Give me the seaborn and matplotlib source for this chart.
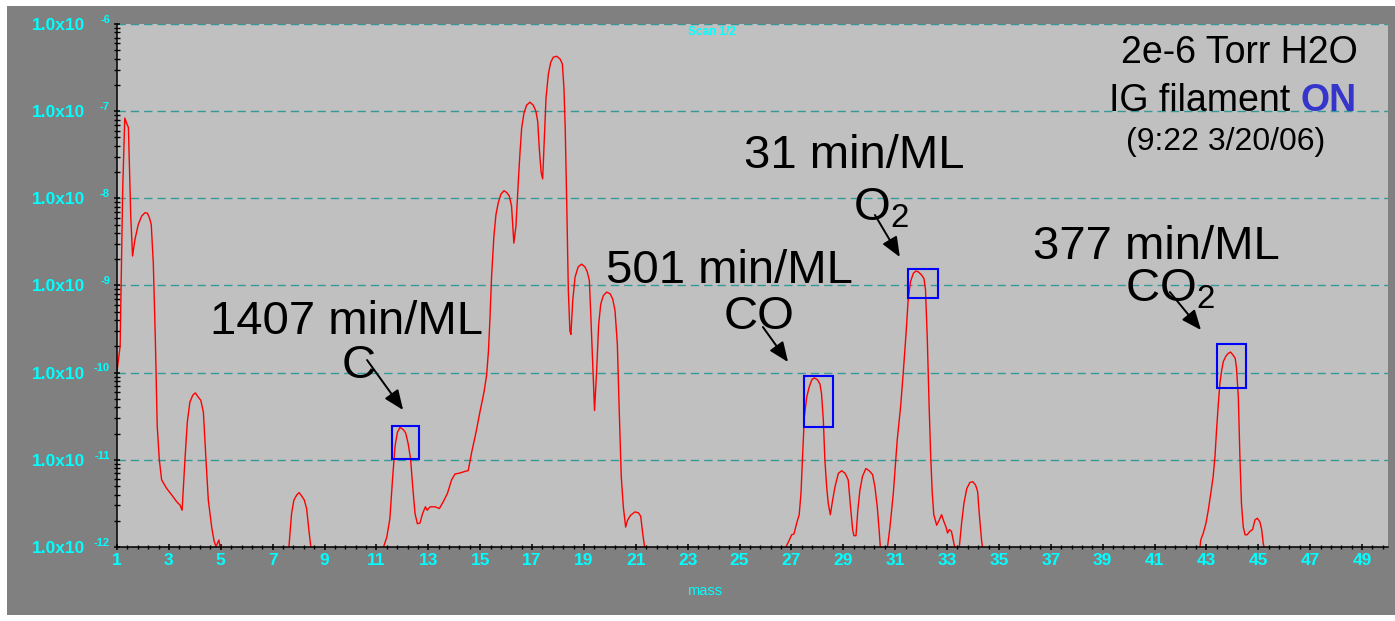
import numpy as np
import pandas as pd
import matplotlib
matplotlib.use("Agg")
import matplotlib.pyplot as plt
import seaborn as sns
from matplotlib.patches import Rectangle
from matplotlib.ticker import FixedLocator, LogLocator, NullFormatter, FixedFormatter

# ---------------- data ----------------
mass = [1.00, 1.12, 1.22, 1.30, 1.37, 1.44, 1.53, 1.60, 1.69, 1.82, 1.95, 2.08, 2.17, 2.25, 2.32,
        2.40, 2.48, 2.55, 2.63, 2.72, 2.91, 3.11, 3.30, 3.43, 3.51, 3.62, 3.71, 3.81, 3.92, 4.02,
        4.13, 4.23, 4.33, 4.43, 4.52, 4.65, 4.74, 4.82, 4.88, 4.93, 4.98, 5.02,
        7.58, 7.62, 7.73, 7.82, 7.93, 8.02, 8.12, 8.22, 8.31, 8.40, 8.48, 8.52,
        11.22, 11.27, 11.40, 11.52, 11.63, 11.72, 11.81, 11.91, 12.04, 12.13, 12.23, 12.32, 12.40,
        12.49, 12.58, 12.68, 12.78, 12.89, 12.96, 13.07, 13.26, 13.43, 13.58, 13.74, 13.90, 14.03,
        14.22, 14.42, 14.54, 14.67, 14.84, 14.99, 15.15, 15.25, 15.32, 15.38, 15.44, 15.53, 15.61,
        15.70, 15.80, 15.92, 16.02, 16.12, 16.21, 16.30, 16.38, 16.47, 16.53, 16.60, 16.69, 16.79,
        16.92, 17.05, 17.15, 17.22, 17.28, 17.35, 17.41, 17.46, 17.54, 17.63, 17.72, 17.82, 17.95,
        18.08, 18.17, 18.23, 18.28, 18.34, 18.40, 18.46, 18.50, 18.57, 18.66, 18.78, 18.91, 19.04,
        19.13, 19.21, 19.27, 19.34, 19.41, 19.49, 19.57, 19.65, 19.75, 19.88, 20.01, 20.11, 20.20,
        20.29, 20.36, 20.44, 20.52, 20.61, 20.68, 20.80, 20.97, 21.10, 21.19, 21.27, 21.35, 21.39,
        26.74, 26.79, 26.92, 27.01, 27.10, 27.20, 27.30, 27.37, 27.43, 27.50, 27.59, 27.69, 27.79,
        27.88, 28.00, 28.10, 28.16, 28.23, 28.29, 28.36, 28.42, 28.50, 28.59, 28.68, 28.81, 28.94,
        29.07, 29.19, 29.28, 29.36, 29.41, 29.49, 29.56, 29.64, 29.74, 29.87, 30.00, 30.13, 30.22,
        30.31, 30.38, 30.43, 30.47,
        30.66, 30.70, 30.80, 30.93, 31.08, 31.21, 31.31, 31.42, 31.50, 31.59, 31.70, 31.80, 31.90,
        32.02, 32.11, 32.17, 32.24, 32.31, 32.37, 32.43, 32.49, 32.60, 32.70, 32.79, 32.88, 32.96,
        33.02, 33.09, 33.17, 33.24, 33.30, 33.33,
        33.44, 33.47, 33.56, 33.65, 33.76, 33.88, 33.99, 34.10, 34.18, 34.24, 34.33, 34.37, 34.41,
        42.71, 42.75, 42.78, 42.88, 42.98, 43.07, 43.17, 43.26, 43.33, 43.39, 43.46, 43.52, 43.59,
        43.65, 43.75, 43.84, 43.93, 44.03, 44.11, 44.16, 44.23, 44.29, 44.35, 44.42, 44.49, 44.57,
        44.68, 44.78, 44.87, 44.96, 45.06, 45.13, 45.19, 45.23, 45.27, 50.00]

# log10 of partial pressure (Torr) at each mass
log_pressure = [-9.988, -9.697, -7.893, -7.079, -7.137, -7.188, -8.204, -8.662, -8.475, -8.300,
                -8.204, -8.165, -8.170, -8.223, -8.300, -8.747, -9.639, -10.608, -10.996, -11.229,
                -11.326, -11.403, -11.480, -11.519, -11.578, -10.996, -10.569, -10.337, -10.259,
                -10.232, -10.279, -10.317, -10.453, -10.996, -11.461, -11.772, -11.927, -12.00,
                -11.95, -11.92, -12.02, -13.0,
                -13.0, -12.03, -11.617, -11.461, -11.403, -11.376, -11.415, -11.461, -11.558,
                -11.811, -12.02, -13.0,
                -13.0, -12.005, -11.888, -11.675, -11.190, -10.841, -10.685, -10.628, -10.654,
                -10.693, -10.822, -10.996, -11.306, -11.617, -11.733, -11.725, -11.617, -11.539,
                -11.578, -11.539, -11.539, -11.558, -11.480, -11.384, -11.229, -11.163, -11.151,
                -11.132, -11.124, -10.918, -10.685, -10.453, -10.221, -10.027, -9.755, -9.367,
                -8.902, -8.437, -8.185, -8.049, -7.952, -7.913, -7.932, -7.971, -8.087, -8.514,
                -8.320, -7.816, -7.505, -7.196, -7.021, -6.932, -6.897, -6.932, -7.002, -7.118,
                -7.428, -7.699, -7.777, -7.428, -6.847, -6.575, -6.440, -6.381, -6.370, -6.401,
                -6.458, -6.730, -7.196, -8.087, -9.057, -9.522, -9.561, -9.173, -8.902, -8.786,
                -8.755, -8.786, -8.844, -8.941, -9.367, -9.910, -10.434, -9.988, -9.445, -9.212,
                -9.115, -9.076, -9.095, -9.154, -9.289, -9.677, -10.415, -11.190, -11.539, -11.772,
                -11.694, -11.636, -11.597, -11.608, -11.647, -11.850, -12.02, -13.0,
                -13.0, -12.00, -11.92, -11.86, -11.85, -11.73, -11.63, -11.38, -10.96, -10.505,
                -10.28, -10.16, -10.08, -10.06, -10.08, -10.13, -10.24, -10.54, -11.00, -11.31,
                -11.50, -11.63, -11.46, -11.31, -11.155, -11.125, -11.155, -11.23, -11.54, -11.80,
                -11.87, -11.87, -11.58, -11.35, -11.19, -11.10, -11.125, -11.17, -11.31, -11.54,
                -11.80, -12.01, -13.0,
                -13.0, -12.01, -11.77, -11.38, -10.77, -10.39, -10.007, -9.55, -9.17, -8.956,
                -8.86, -8.834, -8.845, -8.88, -8.92, -9.05, -9.625, -10.39, -10.96, -11.38,
                -11.63, -11.75, -11.69, -11.63, -11.71, -11.77, -11.84, -11.80, -11.82, -11.92,
                -12.01, -13.0,
                -13.0, -12.01, -11.73, -11.50, -11.33, -11.26, -11.25, -11.29, -11.365, -11.61,
                -11.92, -12.01, -13.0,
                -13.0, -12.01, -11.92, -11.84, -11.73, -11.58, -11.38, -11.19, -10.96, -10.66,
                -10.35, -10.12, -9.97, -9.874, -9.81, -9.78, -9.763, -9.80, -9.835, -9.95, -10.28,
                -10.96, -11.50, -11.77, -11.86, -11.86, -11.82, -11.80, -11.69, -11.67, -11.71,
                -11.80, -11.96, -12.01, -13.0, -13.0]

pressure = 10.0 ** np.array(log_pressure)

ytick_values = [1e-12, 1e-11, 1e-10, 1e-9, 1e-8, 1e-7, 1e-6]
ytick_labels = ["1.0x10"] * 7
ytick_exponents = ["-12", "-11", "-10", "-9", "-8", "-7", "-6"]
xtick_values = list(range(1, 50, 2))
xtick_labels = [str(v) for v in xtick_values]

# highlighted peaks: (mass_low, mass_high, p_low, p_high)
box_mass_lo = [11.60, 27.47, 31.49, 43.39]
box_mass_hi = [12.64, 28.61, 32.64, 44.52]
box_p_lo = [1.02e-11, 2.38e-11, 7.13e-10, 6.6e-11]
box_p_hi = [2.44e-11, 9.16e-11, 1.55e-9, 2.11e-10]

# rate labels
rate_texts = ["1407 min/ML", "501 min/ML", "31 min/ML", "377 min/ML"]
rate_mass = [9.83, 24.63, 29.41, 41.07]
rate_p = [10 ** -9.557, 10 ** -8.971, 10 ** -7.652, 10 ** -8.696]

# species labels
species_texts = ["C", "CO", "O$_2$", "CO$_2$"]
species_mass = [10.33, 25.75, 29.37, 39.86]
species_p = [10 ** -10.062, 10 ** -9.499, 10 ** -8.26, 10 ** -9.178]
species_ha = ["center", "center", "left", "left"]

# arrows tail -> head
arrow_tail_mass = [10.64, 25.90, 30.22, 41.59]
arrow_tail_p = [10 ** -9.855, 10 ** -9.476, 10 ** -8.191, 10 ** -9.075]
arrow_head_mass = [12.03, 26.87, 31.18, 42.79]
arrow_head_p = [10 ** -10.428, 10 ** -9.878, 10 ** -8.673, 10 ** -9.511]

df = pd.DataFrame({"mass": mass, "pressure": pressure})

# ---------------- style ----------------
sns.set_style("white")
plt.rcParams["font.family"] = ["Liberation Sans", "DejaVu Sans"]
plt.rcParams["mathtext.fontset"] = "custom"
plt.rcParams["mathtext.rm"] = "Liberation Sans"
plt.rcParams["mathtext.default"] = "regular"

CYAN = "#00ffff"
W, H = 1395, 621

fig = plt.figure(figsize=(W / 100, H / 100), dpi=100)
fig.patch.set_facecolor("white")
fig.add_artist(Rectangle((7 / W, 6 / H), (W - 7) / W, 609 / H, transform=fig.transFigure,
                         facecolor="#808080", edgecolor="none", zorder=-10))

ax = fig.add_axes([117 / W, (H - 547) / H, 1271 / W, 523 / H])
ax.set_facecolor("#c0c0c0")

sns.lineplot(data=df, x="mass", y="pressure", ax=ax, color="#ff0000", linewidth=1.0,
             estimator=None, sort=False, zorder=4)

ax.set_yscale("log")
ax.set_ylim(1e-12, 1e-6)
ax.set_xlim(1, 50)

# grid
ax.yaxis.grid(True, which="major", color="#339999", linestyle=(0, (6, 3.6)), linewidth=1.0)
ax.xaxis.grid(False)
ax.set_axisbelow(True)

for s in ["top", "right"]:
    ax.spines[s].set_visible(False)
for s in ["left", "bottom"]:
    ax.spines[s].set_color("black")
    ax.spines[s].set_linewidth(1.1)
    ax.spines[s].set_zorder(5)

# y ticks
ax.yaxis.set_major_locator(FixedLocator(ytick_values))
ax.yaxis.set_major_formatter(FixedFormatter(ytick_labels))
ax.yaxis.set_minor_locator(LogLocator(base=10, subs=np.arange(2, 10), numticks=20))
ax.yaxis.set_minor_formatter(NullFormatter())
ax.tick_params(axis="y", which="major", left=True, direction="inout", length=5, width=1.1,
               color="black", labelcolor=CYAN, labelsize=12.5, pad=20.5)
ax.tick_params(axis="y", which="minor", left=True, direction="inout", length=4, width=1,
               color="black")
for lab in ax.get_yticklabels():
    lab.set_fontweight("bold")
for val, ex in zip(ytick_values, ytick_exponents):
    ax.annotate(ex, xy=(0, val), xycoords=("axes fraction", "data"), xytext=(-5, 3),
                textcoords="offset points", ha="right", va="center", fontsize=8,
                fontweight="bold", color=CYAN, annotation_clip=False)

# x ticks
ax.xaxis.set_major_locator(FixedLocator(xtick_values))
ax.xaxis.set_major_formatter(FixedFormatter(xtick_labels))
ax.xaxis.set_minor_locator(FixedLocator(np.round(np.arange(1, 50.01, 0.4), 2)))
ax.tick_params(axis="x", which="major", bottom=True, direction="inout", length=5, width=1.1,
               color="black", labelcolor=CYAN, labelsize=12.5, pad=2.0)
ax.tick_params(axis="x", which="minor", bottom=True, direction="inout", length=2.5, width=1,
               color="black")
for lab in ax.get_xticklabels():
    lab.set_fontweight("bold")

ax.set_xlabel("mass", color=CYAN, fontsize=10.5, va="center")
ax.xaxis.set_label_coords((705 - 117) / 1271, (547 - 591) / 523)
ax.set_ylabel("")

ax.text(0.4681, 0.9847, "Scan 1/2", transform=ax.transAxes, ha="center", va="center",
        fontsize=8.5, fontweight="bold", color=CYAN)

# boxes
for x0, x1, y0, y1 in zip(box_mass_lo, box_mass_hi, box_p_lo, box_p_hi):
    ax.add_patch(Rectangle((x0, y0), x1 - x0, y1 - y0, fill=False, edgecolor="#0000ff",
                           linewidth=1.5, zorder=6))

# annotations
for t, x, y in zip(rate_texts, rate_mass, rate_p):
    ax.text(x, y, t, ha="center", va="baseline", fontsize=34, color="black", zorder=7)
for t, x, y, ha in zip(species_texts, species_mass, species_p, species_ha):
    ax.text(x, y, t, ha=ha, va="baseline", fontsize=34, color="black", zorder=7)
for tx, ty, hx, hy in zip(arrow_tail_mass, arrow_tail_p, arrow_head_mass, arrow_head_p):
    ax.annotate("", xy=(hx, hy), xytext=(tx, ty),
                arrowprops=dict(arrowstyle="-|>,head_length=0.6,head_width=0.25",
                                color="black", lw=1.4, mutation_scale=20,
                                shrinkA=0, shrinkB=0), zorder=8)

ax.text(0.9764, 0.9254, "2e-6 Torr H2O", transform=ax.transAxes, ha="right", va="baseline",
        fontsize=27, color="black")
on = ax.text(0.9756, 0.8337, "ON", transform=ax.transAxes, ha="right", va="baseline",
             fontsize=27, color="#3535cc", fontweight="bold")
ax.annotate("IG filament", xy=(0, 0), xycoords=on, xytext=(-7.5, 0), textcoords="offset points",
            ha="right", va="bottom", fontsize=27, color="black")
ax.text(0.8725, 0.7591, "(9:22 3/20/06)", transform=ax.transAxes, ha="center", va="baseline",
        fontsize=23, color="black")

fig.savefig("out.png", dpi=100, facecolor=fig.get_facecolor())
